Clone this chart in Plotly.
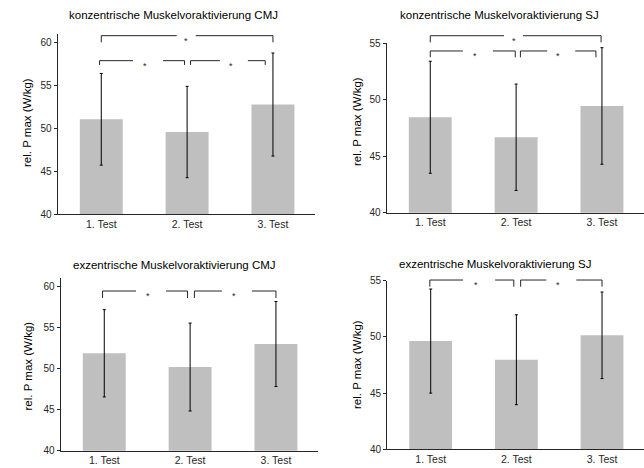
import plotly.graph_objects as go

# ---------------- data ----------------
categories = ["1. Test", "2. Test", "3. Test"]

kon_cmj_mean = [51.03, 49.55, 52.75]
kon_cmj_sd = [5.34, 5.32, 6.00]
kon_sj_mean = [48.45, 46.68, 49.45]
kon_sj_sd = [4.96, 4.71, 5.16]
exz_cmj_mean = [51.85, 50.18, 52.98]
exz_cmj_sd = [5.31, 5.35, 5.17]
exz_sj_mean = [49.63, 47.97, 50.14]
exz_sj_sd = [4.63, 4.00, 3.85]

titles = [
    "konzentrische Muskelvoraktivierung CMJ",
    "konzentrische Muskelvoraktivierung SJ",
    "exzentrische Muskelvoraktivierung CMJ",
    "exzentrische Muskelvoraktivierung SJ",
]
y_title = "rel. P max (W/kg)"
ticks_cmj = [40, 45, 50, 55, 60]
ticks_sj = [40, 45, 50, 55]
range_cmj = [40, 61]
range_sj = [40, 55]

# significance brackets: (x_start, x_end, y_line, y_tick_end, x_star)
brackets_kon_cmj = [(0.0, 2.0, 60.77, 60.0, 0.99), (-0.02, 0.97, 57.86, 57.36, 0.51), (1.04, 1.91, 57.86, 57.36, 1.51)]
brackets_kon_sj = [(0.0, 1.99, 55.67, 55.08, 0.97), (0.0, 0.99, 54.32, 53.76, 0.52), (1.05, 1.93, 54.32, 53.76, 1.49)]
brackets_exz_cmj = [(-0.02, 0.97, 59.43, 58.58, 0.51), (1.05, 2.0, 59.43, 58.58, 1.51)]
brackets_exz_sj = [(-0.01, 0.97, 55.06, 54.47, 0.53), (1.05, 2.0, 55.06, 54.47, 1.49)]

# ---------------- layout helpers ----------------
W, H = 644, 468
FONT = "Liberation Sans, Arial, sans-serif"
BAR_COLOR = "#BFBFBF"
LINE_COLOR = "#262626"
TEXT_COLOR = "#262626"
X_RANGE = [-0.51, 2.49]


def px_x(v):
    return v / W


def px_y(v):
    return 1 - v / H


panels = [
    dict(mean=kon_cmj_mean, sd=kon_cmj_sd, title=titles[0], ticks=ticks_cmj, yr=range_cmj,
         br=brackets_kon_cmj, xd=(57.5, 315), yd=(214, 33.7), tpos=(173, 15), ypos=(27, 123), gaps=[19, 30, 28]),
    dict(mean=kon_sj_mean, sd=kon_sj_sd, title=titles[1], ticks=ticks_sj, yr=range_sj,
         br=brackets_kon_sj, xd=(386.5, 644), yd=(212.7, 43.3), tpos=(499, 15), ypos=(357, 122), gaps=[19, 30, 28]),
    dict(mean=exz_cmj_mean, sd=exz_cmj_sd, title=titles[2], ticks=ticks_cmj, yr=range_cmj,
         br=brackets_exz_cmj, xd=(60.5, 318), yd=(450.7, 278.1), tpos=(174, 265), ypos=(27, 366.5), gaps=[30, 30]),
    dict(mean=exz_sj_mean, sd=exz_sj_sd, title=titles[3], ticks=ticks_sj, yr=range_sj,
         br=brackets_exz_sj, xd=(387, 644), yd=(449.3, 280.7), tpos=(495, 264), ypos=(357, 365), gaps=[32, 30]),
]

fig = go.Figure()
shapes = []
annotations = []

for i, p in enumerate(panels, start=1):
    sfx = "" if i == 1 else str(i)
    xa, ya = "x" + sfx, "y" + sfx
    fig.add_trace(go.Bar(
        x=categories, y=p["mean"], xaxis=xa, yaxis=ya, width=0.5,
        marker=dict(color=BAR_COLOR, line=dict(width=0)),
        error_y=dict(type="data", array=p["sd"], visible=True, color="black", thickness=1, width=1.5),
        showlegend=False, hoverinfo="skip",
    ))
    fig.update_layout(**{
        "xaxis" + sfx: dict(
            domain=[px_x(p["xd"][0]), px_x(p["xd"][1])], anchor=ya, range=X_RANGE,
            showline=True, linecolor=LINE_COLOR, linewidth=1, ticks="", showgrid=False, zeroline=False,
            tickfont=dict(family=FONT, size=10.5, color=TEXT_COLOR), fixedrange=True, automargin=False,
        ),
        "yaxis" + sfx: dict(
            domain=[px_y(p["yd"][0]), px_y(p["yd"][1])], anchor=xa, range=p["yr"],
            tickvals=p["ticks"], ticks="outside", ticklen=3, tickcolor=LINE_COLOR,
            showline=True, linecolor=LINE_COLOR, linewidth=1, showgrid=False, zeroline=False,
            tickfont=dict(family=FONT, size=10, color=TEXT_COLOR), fixedrange=True, automargin=False,
        ),
    })
    lo, hi = p["yr"]
    px_per_unit = (p["xd"][1] - p["xd"][0]) / (X_RANGE[1] - X_RANGE[0])

    def dom(v):
        return (v - lo) / (hi - lo)

    for (x0, x1, yl, yt, xs), gap in zip(p["br"], p["gaps"]):
        half = gap / 2 / px_per_unit
        shift = 3 / px_per_unit if gap >= 28 else 0
        gl, gr = xs - half + shift, xs + half + shift
        shapes.append(dict(
            type="path", xref=xa, yref=ya + " domain",
            path=f"M {x0} {dom(yt)} L {x0} {dom(yl)} L {gl} {dom(yl)}",
            line=dict(color=LINE_COLOR, width=1),
        ))
        shapes.append(dict(
            type="path", xref=xa, yref=ya + " domain",
            path=f"M {gr} {dom(yl)} L {x1} {dom(yl)} L {x1} {dom(yt)}",
            line=dict(color=LINE_COLOR, width=1),
        ))
        annotations.append(dict(
            x=xs, y=dom(yl), xref=xa, yref=ya + " domain", text="*", showarrow=False,
            font=dict(family=FONT, size=9, color=TEXT_COLOR), yshift=-5,
            xanchor="center", yanchor="middle",
        ))
    # panel title
    annotations.append(dict(
        x=px_x(p["tpos"][0]), y=px_y(p["tpos"][1]), xref="paper", yref="paper",
        text=p["title"], showarrow=False, xanchor="center", yanchor="middle",
        font=dict(family=FONT, size=11.5, color="black"),
    ))
    # y axis title
    annotations.append(dict(
        x=px_x(p["ypos"][0]), y=px_y(p["ypos"][1]), xref="paper", yref="paper",
        text=y_title, textangle=-90, showarrow=False, xanchor="center", yanchor="middle",
        font=dict(family=FONT, size=11.5, color="black"),
    ))

fig.update_layout(
    width=W, height=H, margin=dict(l=0, r=0, t=0, b=0, pad=0, autoexpand=False),
    paper_bgcolor="white", plot_bgcolor="white",
    shapes=shapes, annotations=annotations,
    font=dict(family=FONT),
)

fig.write_html(
    "out.html",
    config={"displayModeBar": False},
    post_script="document.body.style.margin='0';document.body.style.overflow='hidden';",
)
